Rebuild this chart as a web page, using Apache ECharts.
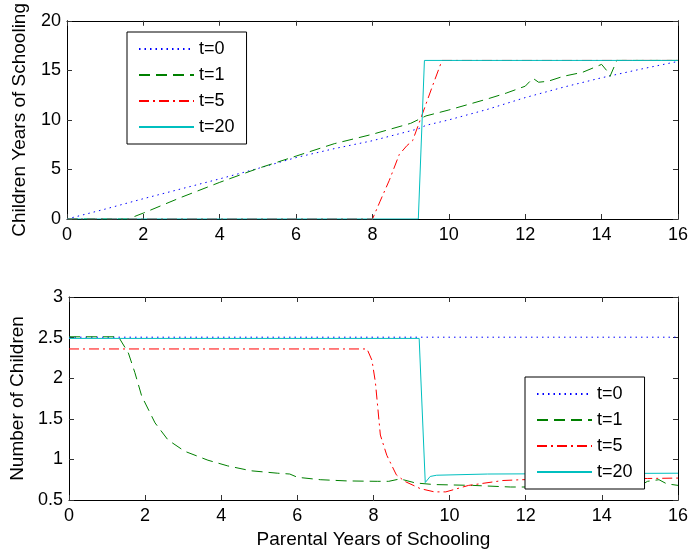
<!DOCTYPE html>
<html>
<head>
<meta charset="utf-8">
<script src="https://cdn.jsdelivr.net/npm/echarts@6/dist/echarts.min.js"></script>
<style>html,body{margin:0;padding:0;background:#fff;}#c{width:691px;height:555px;}</style>
</head>
<body>
<div id="c"></div>
<script>
// ---------- data ----------
var seriesNames = ['t=0', 't=1', 't=5', 't=20'];
var xTicks = [0, 2, 4, 6, 8, 10, 12, 14, 16];

// Top panel: Children Years of Schooling
var topT0X = [0, 1, 2, 3, 4, 5, 6, 7, 8, 9, 9.2, 9.4, 10, 11, 12, 13, 14, 15, 16];
var topT0Y = [0, 1, 2.05, 3.05, 4.05, 5.1, 6.2, 7.1, 7.9, 8.9, 9.1, 9.45, 10.0, 11.05, 12.25, 13.3, 14.25, 15.1, 15.9];
var topT1X = [0, 1.6, 2, 3, 4, 5, 6, 7, 8, 9, 9.4, 10, 11, 11.5, 12, 12.2, 12.35, 12.6, 13, 13.5, 14, 14.15, 14.22, 14.4, 16];
var topT1Y = [0, 0, 0.6, 2.2, 3.7, 5.1, 6.35, 7.6, 8.55, 9.65, 10.4, 11.0, 12.1, 12.7, 13.4, 14.2, 13.8, 13.9, 14.4, 14.8, 15.6, 14.9, 14.4, 16, 16];
var topT5X = [0, 8, 8.2, 8.44, 8.7, 8.9, 9.05, 9.26, 9.56, 9.82, 16];
var topT5Y = [0, 0, 1.8, 3.9, 6.5, 7.4, 7.9, 10.1, 13.3, 16, 16];
var topT20X = [0, 9.2, 9.36, 16];
var topT20Y = [0, 0, 16, 16];

// Bottom panel: Number of Children
var botT0X = [0, 16];
var botT0Y = [2.505, 2.505];
var botT1X = [0, 1.3, 1.56, 1.73, 1.91, 2.26, 2.6, 3.04, 3.65, 4.17, 4.78, 5.48, 5.8, 6.0, 6.6, 7.3, 8.1, 8.4, 8.7, 9.1, 9.6, 10.6, 11.6, 12.6, 13.2, 13.6, 14.2, 14.9, 15.2, 15.5, 15.7, 16];
var botT1Y = [2.51, 2.51, 2.31, 2.07, 1.78, 1.45, 1.24, 1.1, 0.99, 0.92, 0.86, 0.83, 0.82, 0.78, 0.75, 0.735, 0.73, 0.73, 0.76, 0.71, 0.69, 0.68, 0.66, 0.66, 0.67, 0.64, 0.67, 0.65, 0.73, 0.75, 0.7, 0.68];
var botT5X = [0, 7.83, 7.96, 8.05, 8.18, 8.35, 8.6, 8.82, 9.23, 9.6, 9.9, 10.5, 11.4, 11.9, 13, 14, 15.2, 16];
var botT5Y = [2.36, 2.36, 2.22, 1.95, 1.3, 1.05, 0.81, 0.73, 0.64, 0.6, 0.6, 0.68, 0.74, 0.75, 0.755, 0.76, 0.765, 0.77];
var botT20X = [0, 9.2, 9.36, 9.49, 9.66, 11, 16];
var botT20Y = [2.49, 2.49, 0.715, 0.79, 0.805, 0.82, 0.83];

// ---------- styles ----------
var colors = ['#0000ff', '#008000', '#ff0000', '#00bfbf'];
var dashes = [[1.5, 4], [11, 6], [10, 4, 2, 4], 'solid'];
var FONT = 'Liberation Sans, Arial, Helvetica, sans-serif';

function zip(xs, ys) { return xs.map(function (x, i) { return [x, ys[i]]; }); }

var topData = [zip(topT0X, topT0Y), zip(topT1X, topT1Y), zip(topT5X, topT5Y), zip(topT20X, topT20Y)];
var botData = [zip(botT0X, botT0Y), zip(botT1X, botT1Y), zip(botT5X, botT5Y), zip(botT20X, botT20Y)];

function mkX(gridIndex, pos, labels, name) {
  return {
    type: 'value', gridIndex: gridIndex, position: pos, min: 0, max: 16, interval: 2,
    axisLine: { show: true, onZero: false, lineStyle: { color: '#000', width: 1 } },
    axisTick: { show: true, inside: true, length: 5, lineStyle: { color: '#333' } },
    axisLabel: { show: labels, margin: 7, color: '#000', fontSize: 18, fontFamily: FONT },
    splitLine: { show: false },
    name: name || '', nameLocation: 'middle', nameGap: 30,
    nameTextStyle: { color: '#000', fontSize: 19, fontFamily: FONT }
  };
}
function mkY(gridIndex, pos, labels, min, max, interval, name, gap) {
  return {
    type: 'value', gridIndex: gridIndex, position: pos, min: min, max: max, interval: interval,
    axisLine: { show: true, onZero: false, lineStyle: { color: '#000', width: 1 } },
    axisTick: { show: true, inside: true, length: 5, lineStyle: { color: '#333' } },
    axisLabel: { show: labels, margin: 6, color: '#000', fontSize: 18, fontFamily: FONT },
    splitLine: { show: false },
    name: name || '', nameLocation: 'middle', nameGap: gap || 38, nameRotate: 90,
    nameTextStyle: { color: '#000', fontSize: 19, fontFamily: FONT }
  };
}

var series = [];
[topData, botData].forEach(function (set, g) {
  set.forEach(function (d, i) {
    series.push({
      type: 'line', name: seriesNames[i], xAxisIndex: g * 2, yAxisIndex: g * 2,
      data: d, symbol: 'none', animation: false, silent: true,
      lineStyle: { color: colors[i], width: 1, type: dashes[i] },
      itemStyle: { color: colors[i] }
    });
  });
});

function mkLegend(left, top) {
  return {
    left: left, top: top, orient: 'vertical',
    data: seriesNames.map(function (n, i) {
      return { name: n, lineStyle: i === 3 ? { width: 2 } : undefined };
    }),
    itemWidth: 55, itemHeight: 18, itemGap: 8,
    padding: [8, 12, 8, 11],
    itemStyle: { opacity: 0 },
    borderColor: '#000', borderWidth: 1, backgroundColor: '#fff',
    selectedMode: false,
    textStyle: { color: '#000', fontSize: 18, fontFamily: FONT }
  };
}

var option = {
  animation: false,
  backgroundColor: '#fff',
  grid: [
    { left: 67, right: 12, top: 17, height: 202 },
    { left: 67, right: 12, top: 297, height: 203 }
  ],
  xAxis: [
    mkX(0, 'bottom', true), mkX(0, 'top', false),
    mkX(1, 'bottom', true, 'Parental Years of Schooling'), mkX(1, 'top', false)
  ],
  yAxis: [
    mkY(0, 'left', true, 0, 20, 5, 'Children Years of Schooling', 38), mkY(0, 'right', false, 0, 20, 5),
    mkY(1, 'left', true, 0.5, 3, 0.5, 'Number of Children', 42), mkY(1, 'right', false, 0.5, 3, 0.5)
  ],
  legend: [mkLegend(127, 32), mkLegend(525, 377)],
  series: series
};

var chart = echarts.init(document.getElementById('c'), null, { renderer: 'canvas' });
chart.setOption(option);
</script>
</body>
</html>
